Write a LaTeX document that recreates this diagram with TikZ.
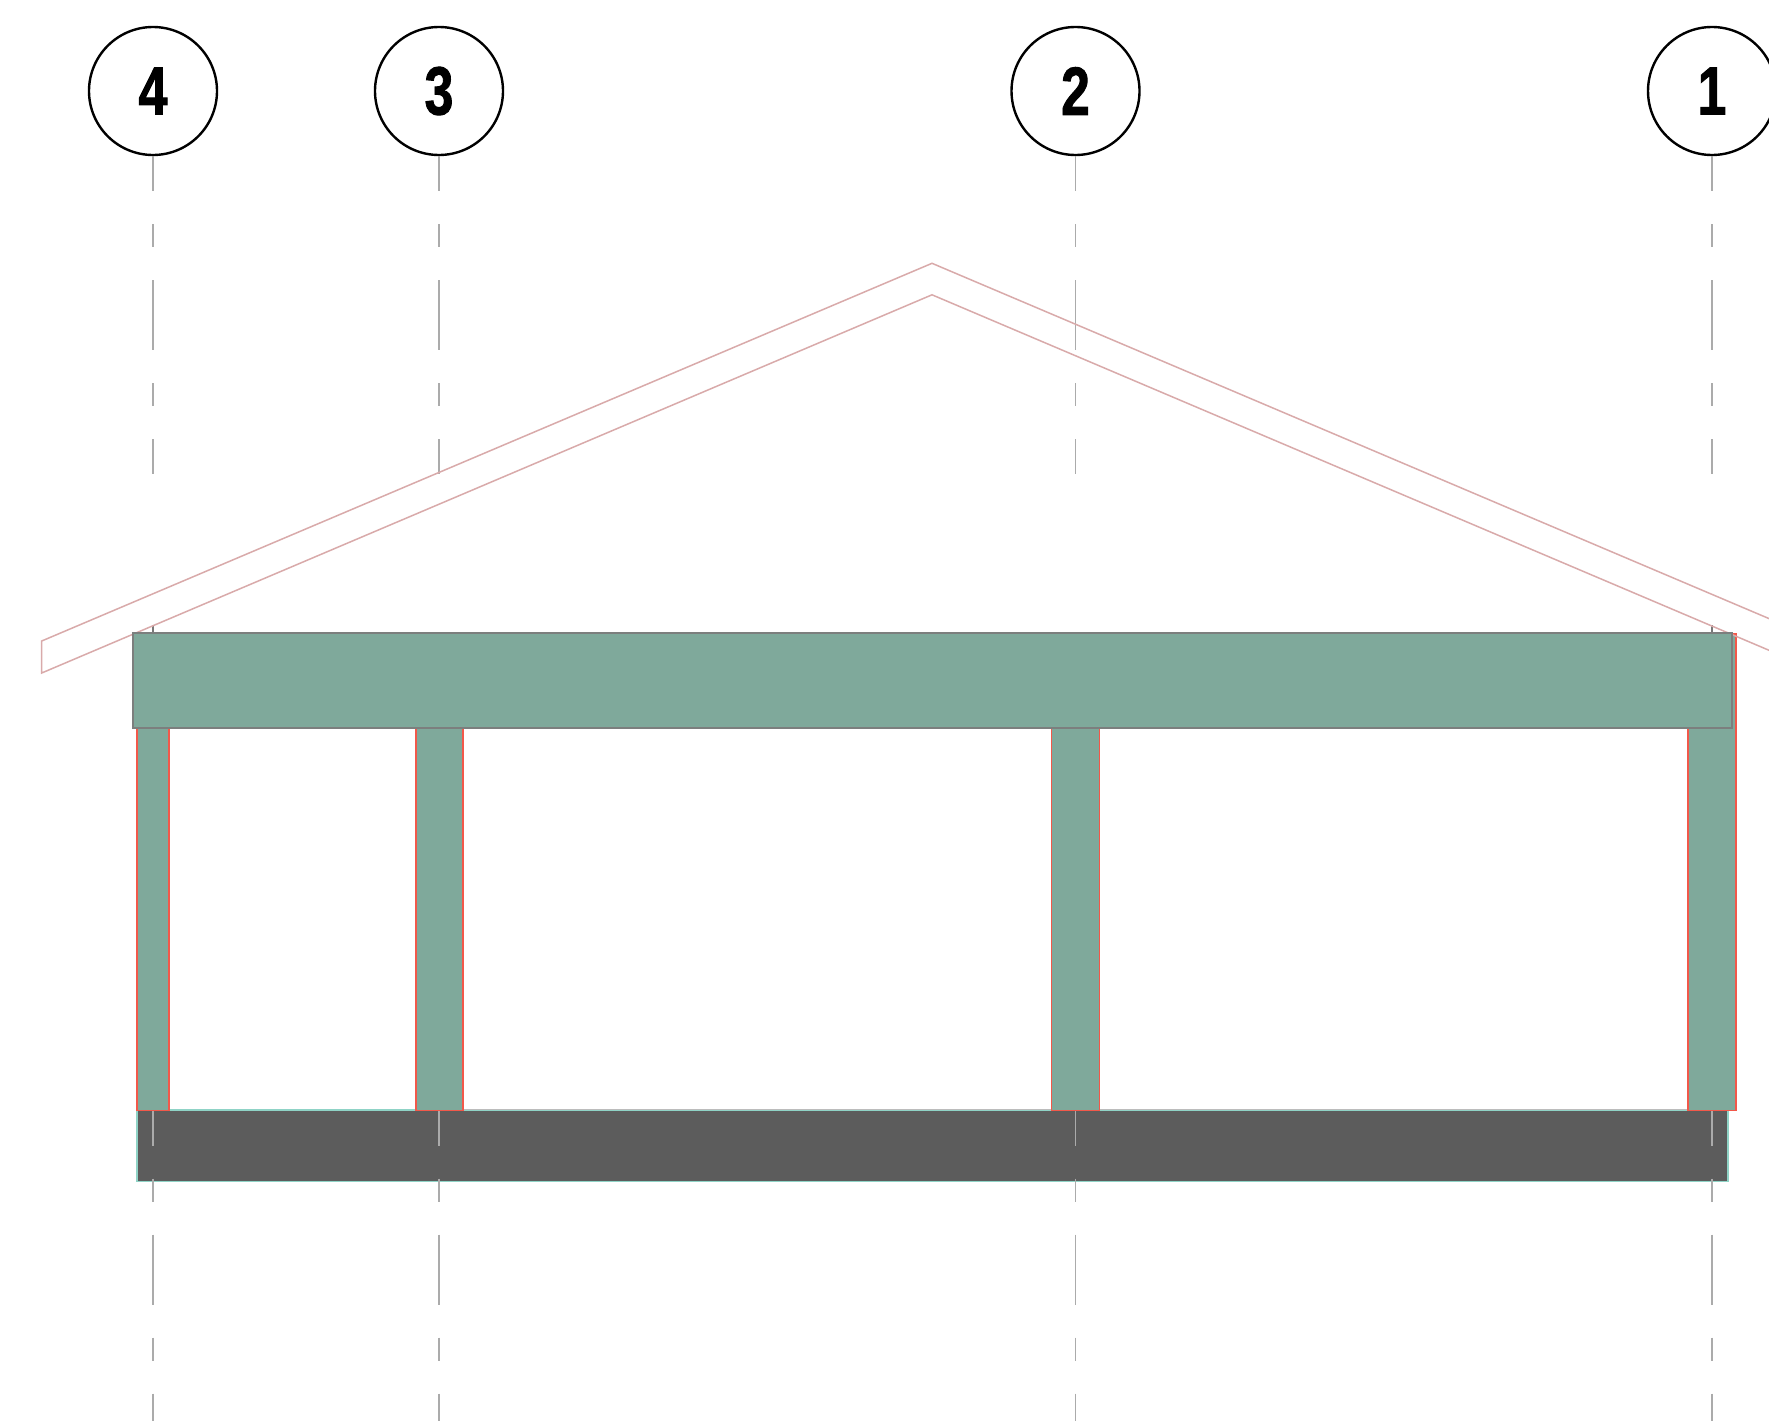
\documentclass[tikz,border=0pt]{standalone}
\usepackage{graphicx}
\usepackage{fontspec}
\setmainfont{Liberation Sans}
\newfontfamily\bubblefont[BoldFeatures={FakeBold=1.6}]{Liberation Sans}
\definecolor{beamgreen}{HTML}{7FA99B}
\definecolor{slabgrey}{HTML}{5C5C5C}
\definecolor{slabedge}{HTML}{8FD3C6}
\definecolor{coledge}{HTML}{F2584A}
\definecolor{beamedge}{HTML}{7C7F7E}
\definecolor{roofline}{HTML}{D9AAAA}
\definecolor{gridline}{HTML}{ABABAB}
\tikzset{
  bubble/.style={circle,draw=black,line width=2.4pt,fill=white,minimum size=128pt,inner sep=0pt,outer sep=1.2pt,
    font=\fontsize{68}{68}\bubblefont\bfseries},
  gridaxis/.style={draw=gridline,line width=1.3pt,dash pattern=on 70pt off 33pt on 23pt off 33pt,dash phase=35pt},
  gridtick/.style={draw=gridline!70!black,line width=1.3pt},
  column/.style={draw=coledge,line width=1.8pt,fill=beamgreen},
  beam/.style={draw=beamedge,line width=1.8pt,fill=beamgreen},
  slab/.style={draw=slabedge,line width=1.3pt,fill=slabgrey},
  roof/.style={draw=roofline,line width=1.5pt},
}
\newcommand{\narrowdigit}[1]{\scalebox{.76}[1]{#1}}
\begin{document}
\begin{tikzpicture}[x=1pt,y=-1pt]
\clip (0,0) rectangle (1769,1421);
\fill[white] (0,0) rectangle (1769,1421);

% slab
\draw[slab] (137,1110) rectangle (1728,1181.5);
\draw[draw=gridline!80!white,line width=1.2pt] (463,1109.5) -- (1690,1109.5);

% grid bubbles
\node[bubble] (b4) at (153,91) {\narrowdigit{4}};
\node[bubble] (b3) at (439,91) {\narrowdigit{3}};
\node[bubble] (b2) at (1075.5,91) {\narrowdigit{2}};
\node[bubble] (b1) at (1712,91) {\narrowdigit{1}};

% grid axes
\foreach \n/\x in {4/153,3/439,2/1075.5,1/1712}{
  \coordinate (upper\n) at (\x,473.5);
  \coordinate (lower\n) at (\x,1110.5);
  \coordinate (end\n) at (\x,1421);
  \draw[gridaxis] (b\n.south) -- (upper\n);
  \draw[gridaxis] (lower\n) -- (end\n);
}
\coordinate (tickA4) at (153,625);
\coordinate (tickB4) at (153,632);
\coordinate (tickA1) at (1712,625);
\coordinate (tickB1) at (1712,632);
\draw[gridtick] (tickA4) -- (tickB4);
\draw[gridtick] (tickA1) -- (tickB1);

% columns
\draw[column] (137,635) rectangle (168.7,1110.5);
\draw[column] (415.7,700) rectangle (463.3,1110.5);
\draw[column] (1051.5,700) rectangle (1099.5,1110.5);
\draw[column] (1688,634) rectangle (1736.3,1110.5);

% roof
\draw[roof] (1790,627.5) -- (932,263.3) -- (41.7,641) -- (41.7,673) -- (932,294.8) -- (1790,659.2);

% beam
\draw[beam] (133,632.8) rectangle (1732,728);
\end{tikzpicture}
\end{document}
